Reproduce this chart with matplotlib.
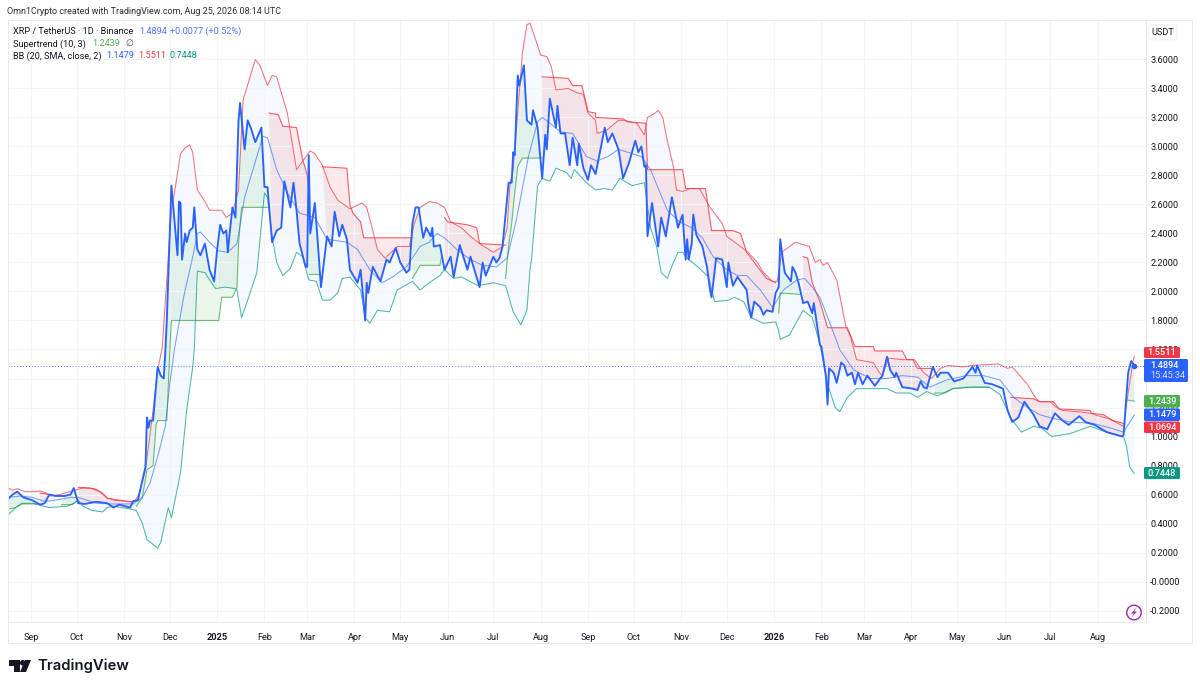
import numpy as np
import matplotlib
matplotlib.use("Agg")
import matplotlib.pyplot as plt
from matplotlib.patches import FancyBboxPatch, Circle, Polygon, Rectangle
from matplotlib.transforms import Affine2D

# every series is (days since 2024-09-01, price)
close = [(-15,.57),(-12,.60),(-9,.62),(-5,.58),(1,.56),(6,.53),(9,.54),(12,.60),(16,.59),(22,.59),(26,.60),(28,.645),
 (31,.54),(35,.535),(43,.55),(50,.54),(54,.51),(58,.53),(65,.51),(67,.555),(70,.56),(73,.70),(75,.79),(76,1.13),
 (77,1.06),(78,1.11),(80,1.11),(83,1.48),(85,1.42),(87,1.40),(88,1.58),(89,1.80),(92,2.73),(96,2.25),(97,2.62),(98,2.61),
 (99,2.22),(101,2.40),(102,2.34),(104,2.42),(106,2.44),(107,2.58),(109,2.29),(111,2.25),(114,2.33),(117,2.15),(120,2.07),(122,2.29),
 (124,2.46),(126,2.40),(128,2.42),(129,2.27),(130,2.38),(132,2.58),(134,2.51),(136,3.18),(137,3.30),(140,2.98),(142,3.18),(144,3.13),
 (147,3.03),(151,3.13),(153,2.72),(155,2.72),(158,2.34),(161,2.42),(164,2.44),(166,2.76),(170,2.58),(172,2.75),(174,2.56),(176,2.33),
 (180,2.17),(181,2.17),(182,2.94),(183,2.40),(186,2.61),(188,2.33),(190,2.03),(194,2.38),(197,2.31),(199,2.55),(202,2.38),(204,2.46),
 (207,2.36),(209,2.15),(214,2.06),(216,2.15),(219,1.80),(220,2.06),(221,1.99),(224,2.17),(229,2.07),(233,2.22),(235,2.20),(239,2.30),
 (242,2.20),(246,2.13),(248,2.15),(250,2.47),(252,2.58),(254,2.58),(257,2.37),(259,2.44),(262,2.38),(263,2.44),(264,2.31),(268,2.32),
 (271,2.15),(275,2.24),(277,2.10),(281,2.32),(286,2.15),(288,2.24),(290,2.17),(294,2.03),(296,2.20),(298,2.11),(303,2.24),(305,2.20),
 (307,2.23),(309,2.31),(313,2.75),(315,2.75),(316,2.96),(317,2.94),(319,3.49),(320,3.42),(323,3.56),(325,3.18),(328,3.15),(329,3.25),
 (332,3.13),(335,2.78),(337,3.08),(338,2.98),(340,3.33),(344,3.13),(345,3.28),(347,3.09),(350,3.09),(353,2.87),(355,3.06),(358,2.87),
 (359,3.02),(362,2.85),(365,2.77),(367,2.87),(370,2.81),(376,3.13),(378,3.03),(381,3.09),(385,2.98),(388,2.78),(392,2.89),(396,3.04),
 (398,2.96),(400,3.00),(402,2.86),(403,2.87),(404,2.38),(407,2.61),(411,2.31),(413,2.51),(416,2.38),(420,2.65),(424,2.44),(427,2.53),
 (429,2.22),(430,2.36),(431,2.22),(433,2.33),(434,2.53),(436,2.39),(440,2.31),(443,2.17),(445,2.01),(446,1.96),(449,2.23),(453,2.22),
 (456,2.03),(457,2.20),(460,2.04),(463,2.10),(469,2.01),(470,1.92),(472,1.82),(474,1.93),(478,1.89),(480,1.84),(482,1.87),(486,1.86),
 (488,1.99),(490,2.03),(491,2.36),(493,2.20),(494,2.13),(498,2.07),(499,2.17),(501,2.13),(503,2.06),(506,1.92),(509,1.93),(512,1.85),
 (513,1.92),(517,1.63),(518,1.62),(521,1.41),(522,1.22),(523,1.47),(526,1.44),(528,1.37),(531,1.51),(533,1.49),(535,1.42),(538,1.44),
 (540,1.36),(542,1.44),(545,1.36),(548,1.42),(553,1.35),(558,1.42),(561,1.55),(563,1.46),(566,1.41),(567,1.44),(571,1.34),(578,1.33),
 (581,1.32),(583,1.38),(585,1.34),(587,1.33),(591,1.48),(594,1.41),(596,1.44),(601,1.44),(605,1.38),(611,1.40),(617,1.48),(619,1.44),
 (620,1.49),(625,1.37),(630,1.36),(637,1.33),(640,1.18),(643,1.10),(647,1.13),(651,1.24),(657,1.15),(661,1.07),(666,1.05),(671,1.16),
 (676,1.11),(680,1.08),(687,1.14),(691,1.10),(697,1.08),(705,1.03),(715,1.00),(716,1.01),(719,1.44),(721,1.52),(723,1.489)]

bb_upper = [(-15,.645),(-12,.63),(-9,.64),(-4,.62),(3,.62),(6,.625),(10,.61),(12,.59),(19,.60),(27,.625),(34,.645),(42,.64),
 (47,.61),(50,.575),(65,.55),(68,.55),(71,.61),(75,.77),(80,1.18),(83,1.46),(86,1.61),(92,2.56),(94,2.68),(98,2.95),
 (101,2.99),(104,3.01),(106,2.96),(109,2.70),(114,2.62),(117,2.56),(125,2.56),(128,2.51),(132,2.54),(136,2.70),(139,3.32),(147,3.60),
 (150,3.56),(155,3.42),(158,3.49),(161,3.48),(168,3.23),(174,2.84),(183,2.97),(186,2.95),(191,2.87),(196,2.72),(201,2.63),(209,2.57),
 (217,2.61),(220,2.58),(224,2.42),(227,2.29),(232,2.23),(240,2.31),(248,2.31),(251,2.46),(255,2.58),(261,2.62),(266,2.61),(271,2.58),
 (275,2.48),(282,2.44),(288,2.38),(294,2.33),(303,2.27),(309,2.31),(312,2.44),(314,2.75),(316,2.84),(322,3.64),(325,3.84),(327,3.85),
 (330,3.76),(334,3.63),(338,3.62),(341,3.55),(344,3.39),(352,3.40),(358,3.37),(362,3.36),(365,3.23),(370,3.18),(371,3.09),(377,3.11),
 (385,3.18),(389,3.18),(397,3.16),(402,3.08),(404,3.20),(409,3.23),(411,3.25),(414,3.20),(417,3.04),(421,2.86),(423,2.70),(427,2.69),
 (432,2.71),(438,2.71),(445,2.58),(453,2.47),(456,2.38),(470,2.27),(476,2.20),(480,2.13),(486,2.07),(489,2.07),(492,2.27),(501,2.34),
 (510,2.31),(514,2.20),(517,2.22),(519,2.18),(522,2.20),(528,2.08),(534,1.76),(537,1.69),(541,1.53),(552,1.51),(556,1.44),(558,1.42),
 (562,1.54),(571,1.53),(579,1.53),(585,1.44),(590,1.40),(596,1.47),(601,1.49),(611,1.48),(617,1.49),(634,1.50),(640,1.47),(643,1.48),
 (648,1.42),(653,1.36),(658,1.27),(661,1.24),(668,1.24),(672,1.20),(676,1.18),(687,1.17),(694,1.16),(707,1.12),(716,1.07),(719,1.30),
 (722,1.51),(723,1.551)]

bb_lower = [(-15,.46),(-10,.51),(-6,.54),(1,.54),(8,.52),(12,.51),(24,.52),(28,.54),(31,.56),(34,.52),(40,.49),(47,.48),
 (50,.51),(54,.52),(65,.50),(69,.49),(73,.40),(76,.29),(83,.23),(85,.27),(90,.51),(92,.44),(98,.75),(102,1.18),
 (106,1.48),(107,1.60),(109,2.14),(114,2.13),(117,2.08),(121,2.02),(127,2.03),(134,2.02),(135,2.01),(138,1.82),(142,1.94),(148,2.13),
 (153,2.68),(155,2.65),(158,2.38),(161,2.20),(165,2.11),(170,2.16),(174,2.27),(178,2.24),(182,2.08),(187,2.07),(191,1.94),(196,1.94),
 (201,1.99),(204,2.09),(209,2.10),(216,2.01),(219,1.82),(222,1.78),(227,1.87),(235,1.86),(240,2.01),(250,2.07),(255,2.01),(261,2.06),
 (268,2.11),(271,2.15),(277,2.09),(282,2.10),(293,2.04),(303,2.06),(311,2.04),(316,1.86),(321,1.77),(325,1.87),(327,2.15),(328,2.22),
 (332,2.73),(335,2.78),(340,2.76),(344,2.85),(351,2.82),(354,2.78),(356,2.84),(364,2.75),(370,2.70),(376,2.71),(381,2.70),(386,2.78),
 (389,2.76),(394,2.73),(402,2.75),(406,2.44),(410,2.31),(413,2.13),(417,2.09),(421,2.20),(424,2.27),(427,2.27),(431,2.22),(437,2.17),
 (444,2.10),(448,1.93),(457,1.94),(461,1.96),(467,1.93),(472,1.82),(480,1.78),(488,1.79),(490,1.73),(491,1.67),(497,1.70),(506,1.87),
 (512,1.82),(517,1.64),(522,1.36),(527,1.20),(530,1.17),(535,1.27),(541,1.33),(548,1.33),(561,1.33),(567,1.30),(576,1.30),(581,1.27),
 (587,1.31),(594,1.28),(604,1.33),(617,1.34),(628,1.34),(635,1.29),(642,1.13),(649,1.03),(657,1.07),(662,1.06),(669,1.00),(681,1.02),
 (694,1.07),(705,1.03),(716,1.00),(718,.93),(720,.79),(723,.745)]

bb_basis = [(-15,.58),(-7,.59),(1,.58),(8,.555),(12,.555),(26,.58),(31,.58),(43,.54),(52,.535),(67,.535),(73,.58),(78,.68),
 (83,.86),(88,1.07),(91,1.37),(94,1.60),(100,1.96),(106,2.24),(109,2.40),(111,2.41),(117,2.34),(123,2.28),(129,2.27),(135,2.33),
 (140,2.65),(152,3.07),(155,3.06),(161,2.84),(168,2.68),(176,2.54),(186,2.51),(194,2.36),(207,2.34),(214,2.29),(222,2.15),(230,2.06),
 (237,2.10),(246,2.17),(255,2.31),(261,2.34),(266,2.40),(271,2.37),(279,2.29),(288,2.22),(296,2.18),(305,2.17),(312,2.23),(318,2.49),
 (326,2.93),(332,3.17),(335,3.20),(339,3.17),(347,3.10),(355,3.09),(364,2.93),(371,2.90),(378,2.93),(385,2.98),(391,2.96),(400,2.93),
 (406,2.84),(417,2.56),(425,2.48),(433,2.44),(440,2.37),(447,2.24),(456,2.15),(463,2.11),(469,2.11),(478,2.01),(486,1.89),(493,2.01),
 (502,2.08),(507,2.09),(512,2.03),(517,1.96),(524,1.77),(530,1.60),(539,1.46),(550,1.40),(561,1.40),(571,1.42),(581,1.41),(589,1.34),
 (600,1.39),(613,1.42),(624,1.42),(635,1.39),(644,1.27),(653,1.20),(661,1.15),(668,1.13),(681,1.10),(696,1.09),(707,1.06),(716,1.03),
 (719,1.08),(723,1.148)]

# supertrend stretches, up trend (green) and down trend (red)
st_up = [
 [(-15,.50),(-10,.51),(-6,.535),(4,.535)],
 [(20,.53),(27,.53),(31,.56)],
 [(69,.52),(73,.58),(76,.77),(80,.80),(82,1.08),(83,1.11),(89,1.11),(91,1.60),(92,1.80),(123,1.80),(125,1.96),(132,1.96),
  (135,2.03),(136,2.33),(138,2.58),(155,2.58)],
 [(182,2.12),(189,2.12)],
 [(250,2.09),(255,2.18),(268,2.18),(269,2.24)],
 [(311,2.09),(313,2.31),(315,2.47),(317,2.68),(319,2.86),(322,2.92),(335,2.92)],
 [(490,1.85),(491,1.99),(504,1.98)],
 [(592,1.30),(599,1.30),(604,1.33),(613,1.34),(628,1.34)],
 [(719,1.25),(723,1.244)],
]
st_down = [
 [(6,.61),(12,.60)],
 [(31,.65),(39,.645),(45,.62),(50,.575),(55,.56),(67,.55)],
 [(156,3.23),(162,3.22),(165,3.14),(174,3.13),(178,2.91),(180,2.84),(181,2.80),(182,2.70)],
 [(191,2.86),(207,2.85),(209,2.60),(211,2.54),(216,2.48),(218,2.37),(250,2.37)],
 [(271,2.51),(273,2.48),(286,2.46),(292,2.44),(294,2.33),(311,2.32)],
 [(335,3.48),(352,3.47),(355,3.42),(361,3.42),(364,3.29),(365,3.24),(370,3.23),(370,3.20),(388,3.19),(391,3.17),(403,3.16),(404,2.84),
  (427,2.84),(429,2.71),(442,2.71),(446,2.42),(460,2.42),(465,2.40),(469,2.27),(474,2.20),(482,2.09),(488,2.06)],
 [(506,2.24),(509,2.23),(512,2.06),(517,1.93),(522,1.75),(535,1.75),(540,1.62),(552,1.62),(553,1.59),(571,1.59),(574,1.53),(578,1.53),
  (581,1.47),(592,1.47)],
 [(642,1.27),(657,1.26),(661,1.24),(670,1.24),(674,1.19),(694,1.18),(695,1.16),(703,1.15),(709,1.11),(716,1.09)],
]

price_ticks = [-0.2, 0.0, 0.2, 0.4, 0.6, 0.8, 1.0, 1.2, 1.4, 1.6, 1.8, 2.0, 2.2, 2.4, 2.6, 2.8, 3.0, 3.2, 3.4, 3.6]
month_labels = ["Sep", "Oct", "Nov", "Dec", "2025", "Feb", "Mar", "Apr", "May", "Jun", "Jul", "Aug",
                "Sep", "Oct", "Nov", "Dec", "2026", "Feb", "Mar", "Apr", "May", "Jun", "Jul", "Aug"]
month_days = [0, 30, 61, 91, 122, 153, 181, 212, 242, 273, 303, 334,
              365, 395, 426, 456, 487, 518, 546, 577, 607, 638, 668, 699]

RED = "#f23645"
BLUE = "#2962ff"
GREEN = "#4caf50"
TEAL = "#089981"
INK = "#131722"
FONT = "Roboto"
SMALL = 6.6

W, H = 1200, 688
fig = plt.figure(figsize=(W / 100, H / 100), dpi=100)
ax = fig.add_axes([8 / W, 1 - 622 / H, 1138 / W, 602 / H])
# top-left pixel coordinates for everything around the plot
px = Affine2D().scale(1, -1).translate(0, H)

close_days, close_vals = np.array(close).T
up_d, up_v = np.array(bb_upper).T
lo_d, lo_v = np.array(bb_lower).T
mid_d, mid_v = np.array(bb_basis).T

ax.fill(np.r_[up_d, lo_d[::-1]], np.r_[up_v, lo_v[::-1]], color="#2196f3", alpha=0.05, lw=0, zorder=1)


def trend_line(segment, color):
    days, vals = np.array(segment).T
    inside = (close_days >= days[0]) & (close_days <= days[-1])
    ax.fill(np.r_[days, close_days[inside][::-1]], np.r_[vals, close_vals[inside][::-1]],
            color=color, alpha=0.11, lw=0, zorder=1)
    ax.plot(days, vals, color=color, lw=0.8, alpha=0.8, zorder=2, solid_joinstyle="round")


for seg in st_up:
    trend_line(seg, GREEN)
for seg in st_down:
    trend_line(seg, RED)

ax.plot(up_d, up_v, color=RED, lw=0.75, alpha=0.7, zorder=2.1)
ax.plot(lo_d, lo_v, color=TEAL, lw=0.75, alpha=0.7, zorder=2.1)
ax.plot(mid_d, mid_v, color=BLUE, lw=0.75, alpha=0.6, zorder=2.1)
ax.plot(close_days, close_vals, color=BLUE, lw=1.35, zorder=3, solid_joinstyle="round")
ax.plot(close_days[-1], close_vals[-1], "o", color=BLUE, ms=3, zorder=3)
ax.axhline(close_vals[-1], color=BLUE, lw=0.7, ls=(0, (1, 2)), alpha=0.8, zorder=2)

ax.set_xlim(-15.07, 730.7)
ax.set_ylim(-0.279, 3.872)
ax.set_xticks(month_days)
ax.set_xticklabels(month_labels, fontsize=SMALL, color=INK, family=FONT)
for lab, txt in zip(ax.get_xticklabels(), month_labels):
    if txt.isdigit():
        lab.set_fontweight("bold")
ax.set_yticks(price_ticks)
ax.set_yticklabels(["-0.2000", "-0.0000"] + [f"{p:.4f}" for p in price_ticks[2:]],
                   fontsize=SMALL, color=INK, family=FONT)
ax.yaxis.tick_right()
ax.tick_params(axis="both", length=0)
ax.tick_params(axis="x", pad=8)
ax.tick_params(axis="y", pad=3)
ax.grid(True, color="#f3f4f6", lw=0.8)
ax.set_axisbelow("line")
for side in ax.spines.values():
    side.set_color("#e6e8ee")
    side.set_linewidth(0.7)

# outer frame of the chart, with the price and time scales
fig.add_artist(Rectangle((8, 20), 1184, 623, transform=px, fc="none", ec="#e6e8ee", lw=0.7))


def label(x, y, text, color=INK, size=SMALL, **kw):
    kw.setdefault("family", FONT)
    fig.text(x, y, text, transform=px, color=color, fontsize=size, va="center", **kw)


label(7, 11, "Omn1Crypto created with TradingView.com, Aug 25, 2026 08:14 UTC", color="#2a2e39", size=6.5)

label(13, 31, "XRP / TetherUS · 1D · Binance")
label(139, 31, "1.4894", color=BLUE, alpha=0.85)
label(170, 31, "+0.0077 (+0.52%)", color=BLUE, alpha=0.85)
label(13, 44, "Supertrend (10, 3)")
label(92, 44, "1.2439", color=GREEN)
label(125, 44, "∅", family="DejaVu Sans", alpha=0.75)
label(13, 56, "BB (20, SMA, close, 2)")
label(106, 56, "1.1479", color=BLUE)
label(138, 56, "1.5511", color=RED)
label(170, 56, "0.7448", color=TEAL)

fig.add_artist(FancyBboxPatch((1149, 25), 28, 15, boxstyle="round,pad=0,rounding_size=2", transform=px,
                              fc="white", ec="#eceef2", lw=0.6))
label(1163, 32.5, "USDT", ha="center")


def price_tag(top, bottom, right, color):
    fig.add_artist(FancyBboxPatch((1144, top), right - 1144, bottom - top, boxstyle="round,pad=0,rounding_size=1.5",
                                  transform=px, fc=color, ec="none", zorder=5))


tags = [(347, 358, RED, "1.5511"), (395, 407.5, GREEN, "1.2439"), (408.5, 421, BLUE, "1.1479"),
        (421.5, 433, RED, "1.0694"), (467, 479, TEAL, "0.7448")]
for top, bottom, color, text in tags:
    price_tag(top, bottom, 1180, color)
    label(1162, (top + bottom) / 2, text, color="white", ha="center", zorder=6, fontweight="medium")
price_tag(359, 382, 1188, BLUE)
label(1150.5, 366, "1.4894", color="white", zorder=6, fontweight="medium")
label(1150.5, 376, "15:45:34", color="#d6e0ff", zorder=6)

# lightning badge
fig.add_artist(Circle((1134, 612.5), 7.3, transform=px, fc="white", ec="#9c27b0", lw=1.0, zorder=5))
fig.add_artist(Polygon([(1136.5, 607.5), (1131, 613.5), (1134, 613.5), (1131.5, 617.5), (1137, 611.5), (1134, 611.5)],
                       closed=True, transform=px, fc="#9c27b0", ec="none", zorder=6))

# TradingView mark and wordmark
fig.add_artist(Polygon([(9, 660), (20, 660), (20, 672), (14, 672), (14, 665.5), (9, 665.5)], closed=True,
                       transform=px, fc=INK, ec="none"))
fig.add_artist(Circle((22.7, 662.8), 2.8, transform=px, fc=INK, ec="none"))
fig.add_artist(Polygon([(25, 660), (31, 660), (26, 672), (20, 672)], closed=True, transform=px, fc=INK, ec="none"))
label(37, 665.5, "TradingView", size=10.7, family="Inter", fontweight="semibold")

fig.savefig("out.png", dpi=100)
